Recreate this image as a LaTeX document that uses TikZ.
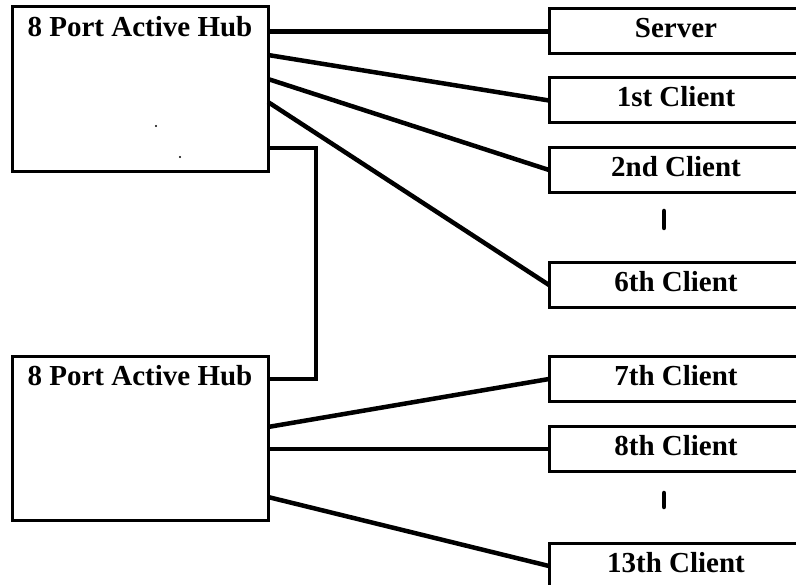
\documentclass[tikz,border=0pt]{standalone}
\usepackage{fontspec}
\setmainfont{Liberation Serif}
\usetikzlibrary{calc}
\begin{document}
\begin{tikzpicture}[x=1pt,y=-1pt,
  box/.style={draw, line width=3pt, rectangle, inner sep=0pt, outer sep=0pt},
  hub/.style={box, minimum width=256pt},
  client/.style={box, minimum width=254pt, minimum height=45pt,
    font=\fontsize{29}{30}\selectfont\bfseries, text height=19pt, text depth=6pt},
  lbl/.style={font=\fontsize{29}{30}\selectfont\bfseries, anchor=base, inner sep=0pt},
  link/.style={line width=4.5pt},
  tick/.style={line width=4.5pt, line cap=round}]
\useasboundingbox (0,0) rectangle (796,585);
\clip (0,0) rectangle (796,585);
\fill[white] (0,0) rectangle (796,585);

% hubs
\node[hub, minimum height=165pt] (hub1) at (140,89.5) {};
\node[lbl] (hub1text) at (140,37) {8 Port Active Hub};
\node[hub, minimum height=163pt] (hub2) at (140,438.5) {};
\node[lbl] (hub2text) at (140,386) {8 Port Active Hub};

% clients
\node[client] (server) at (676,31.5) {Server};
\node[client] (c1) at (676,100.5) {1st Client};
\node[client] (c2) at (676,170) {2nd Client};
\node[client] (c6) at (676,285) {6th Client};
\node[client] (c7) at (676,379) {7th Client};
\node[client] (c8) at (676,449) {8th Client};
\node[client] (c13) at (676,566) {13th Client};

% ellipsis ticks
\coordinate (t1a) at (664,211);
\coordinate (t1b) at (664,228);
\coordinate (t2a) at (664,493);
\coordinate (t2b) at (664,507);
\draw[tick] (t1a) -- (t1b);
\draw[tick] (t2a) -- (t2b);

% scan dots
\fill (156,126) circle (1.1);
\fill (180,157) circle (1.1);

% connectors hub 1
\draw[link] (hub1.east |- server.west) -- (server.west);
\draw[link] ($(hub1.north east)+(0,48)$) -- (c1.west);
\draw[link] ($(hub1.north east)+(0,72)$) -- (c2.west);
\draw[link] ($(hub1.north east)+(0,95)$) -- (c6.west);

% hub to hub
\draw[link] ($(hub1.north east)+(0,141)$) -| ($(hub2.north east)+(48,22)$) -- ($(hub2.north east)+(0,22)$);

% connectors hub 2
\draw[link] ($(hub2.north east)+(0,70)$) -- (c7.west);
\draw[link] (hub2.east |- c8.west) -- (c8.west);
\draw[link] ($(hub2.north east)+(0,140)$) -- (c13.west);
\end{tikzpicture}
\end{document}
